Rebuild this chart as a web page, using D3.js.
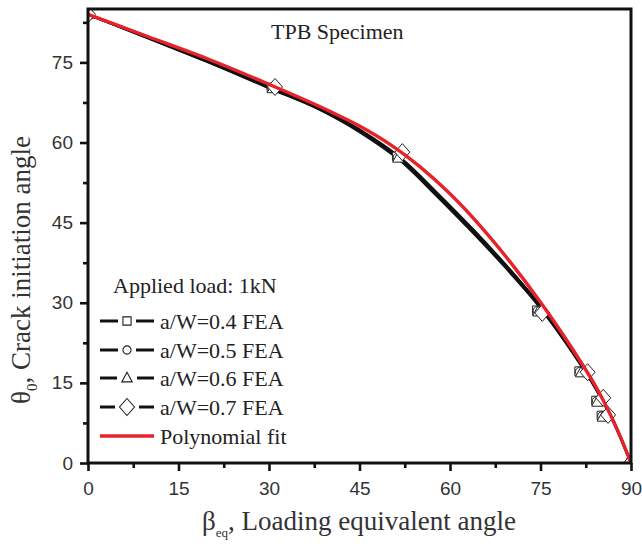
<!DOCTYPE html>
<html>
<head>
<meta charset="utf-8">
<script src="https://cdn.jsdelivr.net/npm/d3@7"></script>
<style>
  html, body { margin: 0; padding: 0; background: #fff; }
  svg { display: block; }
</style>
</head>
<body>
<svg id="chart" width="642" height="546"></svg>
<script>
// ---------- data ----------
const xTicks = [0, 15, 30, 45, 60, 75, 90];
const yTicks = [0, 15, 30, 45, 60, 75];
const xMinor = [7.5, 22.5, 37.5, 52.5, 67.5, 82.5];
const yMinor = [7.5, 22.5, 37.5, 52.5, 67.5, 82.5];

// FEA curves (black lines)
const feaBeta = [0, 10, 20, 30, 38, 45, 52, 58, 64, 70, 75, 80, 84, 87, 90];
const theta04 = [84, 79.6, 75.1, 70.3, 66.5, 62.2, 56.6, 50.1, 43.2, 35.8, 29.2, 21.3, 14.3, 8.0, 0];
const theta05 = [84, 79.7, 75.2, 70.5, 66.7, 62.4, 56.9, 50.4, 43.5, 36.1, 29.4, 21.5, 14.5, 8.1, 0];
const theta06 = [84, 79.5, 75.0, 70.2, 66.4, 62.0, 56.4, 49.8, 42.9, 35.6, 29.0, 21.2, 14.2, 7.9, 0];
const theta07 = [84, 79.6, 75.1, 70.4, 66.6, 62.3, 56.8, 50.3, 43.4, 36.0, 29.3, 21.4, 14.4, 8.1, 0];

// FEA symbol points
const mkBeta04  = [0, 30.4, 51.2, 74.4, 81.4, 84.2, 85.1, 90];
const mkTheta04 = [84, 70.3, 57.4, 28.6, 17.2, 11.7, 8.9, 0];
const mkBeta05  = [0, 30.5, 51.3, 74.5, 81.5, 84.3, 85.2, 90];
const mkTheta05 = [84, 70.2, 57.2, 28.5, 17.1, 11.6, 8.8, 0];
const mkBeta06  = [0, 30.6, 51.4, 74.6, 81.7, 84.4, 85.3, 89.6];
const mkTheta06 = [84, 70.1, 57.1, 28.3, 16.9, 11.4, 8.6, 0.3];
const mkBeta07  = [0, 31.0, 52.1, 75.3, 82.8, 85.4, 86.2, 90];
const mkTheta07 = [84, 70.4, 58.2, 28.1, 17.0, 12.2, 9.0, 0];

// Polynomial fit (red)
const polyBeta  = [0, 10, 20, 30, 40, 45, 50, 55, 60, 65, 70, 75, 80, 85, 88, 90];
const polyTheta = [84, 79.8, 75.6, 70.9, 65.9, 63.1, 59.7, 55.5, 50.4, 44.4, 37.6, 30.1, 21.85, 12.6, 5.55, 0];

const seriesNames = ["a/W=0.4 FEA", "a/W=0.5 FEA", "a/W=0.6 FEA", "a/W=0.7 FEA"];
const seriesShapes = ["square", "circle", "triangle", "diamond"];
const lineThetas = [theta04, theta05, theta06, theta07];
const mkBetas = [mkBeta04, mkBeta05, mkBeta06, mkBeta07];
const mkThetas = [mkTheta04, mkTheta05, mkTheta06, mkTheta07];

// ---------- layout ----------
const svg = d3.select("#chart");
const L = 88, R = 631, T = 9, B = 463;
const x = d3.scaleLinear().domain([0, 90]).range([L, R]);
const y = d3.scaleLinear().domain([0, 85]).range([B, T]);

const numFont = "'Liberation Sans', Arial, sans-serif";
const serif = "'Liberation Serif', 'Times New Roman', serif";
const red = "#e8222a";

svg.append("defs").append("clipPath").attr("id", "plotclip")
  .append("rect").attr("x", L).attr("y", T).attr("width", R - L).attr("height", B - T);

const lineGen = (betas, thetas) => d3.line().curve(d3.curveMonotoneX)
  .x(i => x(betas[i])).y(i => y(thetas[i]))(d3.range(betas.length));

function symbolPath(shape, cx, cy, sc = 1) {
  if (shape === "square") { const s = 4.3 * sc; return `M${cx-s},${cy-s}H${cx+s}V${cy+s}H${cx-s}Z`; }
  if (shape === "circle") { const r = 4.3 * sc; return `M${cx+r},${cy}A${r},${r} 0 1,1 ${cx-r},${cy}A${r},${r} 0 1,1 ${cx+r},${cy}Z`; }
  if (shape === "triangle") { const s = 5.5 * sc; return `M${cx},${cy-s-0.5}L${cx+s},${cy+s*0.75}L${cx-s},${cy+s*0.75}Z`; }
  const w = 7.5 * sc, h = 8.5 * sc; return `M${cx},${cy-h}L${cx+w},${cy}L${cx},${cy+h}L${cx-w},${cy}Z`;
}

const plot = svg.append("g").attr("clip-path", "url(#plotclip)");
seriesNames.forEach((name, k) => {
  plot.append("path")
    .attr("d", lineGen(feaBeta, lineThetas[k]))
    .attr("fill", "none").attr("stroke", "#111").attr("stroke-width", 2.6)
    .attr("stroke-linejoin", "round");
});
seriesNames.forEach((name, k) => {
  plot.append("g").selectAll("path").data(d3.range(mkBetas[k].length)).join("path")
    .attr("d", i => symbolPath(seriesShapes[k], x(mkBetas[k][i]), y(mkThetas[k][i])))
    .attr("fill", "#fff").attr("stroke", "#222").attr("stroke-width", 1);
});
plot.append("path")
  .attr("d", lineGen(polyBeta, polyTheta))
  .attr("fill", "none").attr("stroke", red).attr("stroke-width", 3.4)
  .attr("stroke-linejoin", "round");

// frame
svg.append("rect").attr("x", L).attr("y", T).attr("width", R - L).attr("height", B - T)
  .attr("fill", "none").attr("stroke", "#111").attr("stroke-width", 3);

// axes
function styleAxis(g) {
  g.select(".domain").remove();
  g.selectAll(".tick line").attr("stroke", "#111").attr("stroke-width", 2.6);
  g.selectAll(".tick text").attr("font-family", numFont).attr("font-size", 19).attr("fill", "#333");
}
svg.append("g").attr("transform", `translate(0,${B})`)
  .call(d3.axisBottom(x).tickValues(xTicks).tickSize(8).tickPadding(11).tickFormat(d3.format("d")))
  .call(styleAxis);
svg.append("g").attr("transform", `translate(0,${B})`)
  .call(d3.axisBottom(x).tickValues(xMinor).tickSize(5).tickFormat(""))
  .call(styleAxis);
svg.append("g").attr("transform", `translate(${L},0)`)
  .call(d3.axisLeft(y).tickValues(yTicks).tickSize(8).tickPadding(7).tickFormat(d3.format("d")))
  .call(styleAxis);
svg.append("g").attr("transform", `translate(${L},0)`)
  .call(d3.axisLeft(y).tickValues(yMinor).tickSize(5).tickFormat(""))
  .call(styleAxis);

// axis titles
const xt = svg.append("text").attr("x", 359).attr("y", 530).attr("text-anchor", "middle")
  .attr("font-family", serif).attr("font-size", 27).attr("fill", "#333");
xt.append("tspan").text("β");
xt.append("tspan").attr("font-size", 13).attr("dy", 7).text("eq");
xt.append("tspan").attr("dy", -7).text(", Loading equivalent angle");

const yt = svg.append("text").attr("transform", "translate(30,270) rotate(-90)").attr("text-anchor", "middle")
  .attr("font-family", serif).attr("font-size", 27).attr("fill", "#333");
yt.append("tspan").text("θ");
yt.append("tspan").attr("font-size", 15).attr("dy", 7).text("0");
yt.append("tspan").attr("dy", -7).text(", Crack initiation angle");

// title
svg.append("text").attr("x", 271).attr("y", 39).attr("font-family", serif).attr("font-size", 22)
  .attr("fill", "#222").text("TPB Specimen");

// legend
svg.append("text").attr("x", 113).attr("y", 293).attr("font-family", serif).attr("font-size", 22)
  .attr("fill", "#222").text("Applied load: 1kN");
const rowY = [321, 350, 378, 407, 436];
const legGap = [9, 9, 10, 12];
const leg = svg.append("g");
seriesNames.forEach((name, k) => {
  const cy = rowY[k];
  leg.append("line").attr("x1", 100).attr("x2", 127 - legGap[k]).attr("y1", cy).attr("y2", cy)
    .attr("stroke", "#111").attr("stroke-width", 3);
  leg.append("line").attr("x1", 127 + legGap[k]).attr("x2", 154).attr("y1", cy).attr("y2", cy)
    .attr("stroke", "#111").attr("stroke-width", 3);
  leg.append("path").attr("d", symbolPath(seriesShapes[k], 127, cy, seriesShapes[k] === "diamond" ? 1 : 0.95))
    .attr("fill", "#fff").attr("stroke", "#222").attr("stroke-width", 1.1);
  leg.append("text").attr("x", 160).attr("y", cy + 8).attr("font-family", serif).attr("font-size", 22)
    .attr("fill", "#222").text(name);
});
leg.append("line").attr("x1", 100).attr("x2", 154).attr("y1", rowY[4]).attr("y2", rowY[4])
  .attr("stroke", red).attr("stroke-width", 3.4);
leg.append("text").attr("x", 160).attr("y", rowY[4] + 8).attr("font-family", serif).attr("font-size", 22)
  .attr("fill", "#222").text("Polynomial fit");
</script>
</body>
</html>
